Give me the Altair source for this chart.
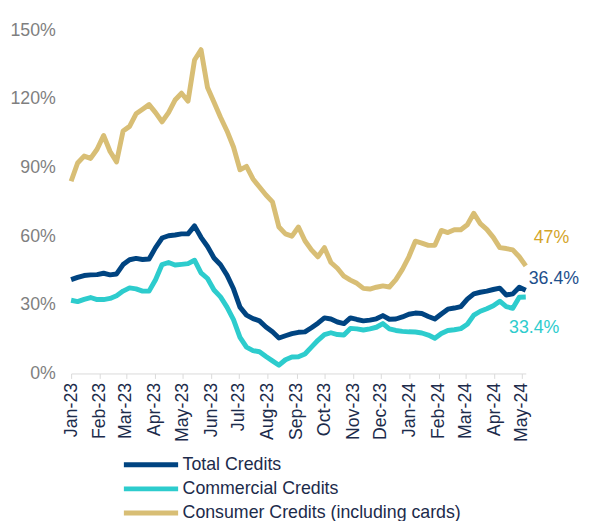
import altair as alt
import pandas as pd

start_date = "2023-01-01"
n_weeks = 71

total = [41, 42, 42.8, 43.1, 43.2, 43.8, 43.1, 43.5, 47.6, 49.7,
         50.3, 49.8, 50, 55, 59.2, 60.2, 60.5, 61, 61, 64.5,
         59.5, 55.5, 50.5, 47.5, 43, 37, 29, 25.5, 24, 23,
         20.3, 18.2, 15.5, 16.5, 17.4, 18, 18.2, 20, 22, 24.3,
         23.8, 22.5, 21.8, 24.3, 23.6, 23, 23.3, 23.9, 25.3, 23.7,
         23.8, 24.7, 25.9, 26.4, 26.2, 24.9, 23.8, 26, 28.1, 28.6,
         29.2, 32.5, 34.8, 35.5, 36, 36.7, 37.3, 34.3, 34.8, 37.7,
         36.4]
commercial = [32, 31.4, 32.4, 33.2, 32.3, 32.3, 32.8, 34, 36, 37.4,
              37, 36, 36, 41, 47.6, 48.5, 47.4, 47.7, 48, 49.5,
              44, 41.5, 36.5, 33.5, 29, 23.5, 15.8, 11.5, 10, 9.5,
              7.4, 5.5, 3.6, 6, 7.2, 7.3, 8.5, 11.5, 14.5, 17,
              17.8, 17, 16.8, 19.7, 19.5, 19, 19.5, 20.2, 21.8, 19.5,
              18.8, 18.4, 18.2, 18.1, 17.7, 16.8, 15.4, 17.5, 18.8, 19.1,
              19.6, 21.5, 25.5, 27.2, 28.3, 29.6, 31.6, 29.2, 28.5, 33.3,
              33.4]
consumer = [84, 92, 95, 94, 98, 104, 97, 92.5, 106, 108,
            113.5, 115.5, 117.5, 114, 110, 114, 119.5, 122.5, 119, 137,
            141.5, 125, 118.5, 112, 106, 99, 89, 90.5, 85, 81.5,
            78, 75, 64, 61, 60, 64, 58, 54, 51, 55,
            48.5, 46, 42.5, 40.8, 39.4, 37.2, 36.9, 37.7, 38.3, 37.8,
            41, 45.5, 51, 57.8, 57, 56, 56, 62.5, 61.6, 62.8,
            62.8, 65, 70, 65.5, 63, 59.5, 55, 54.6, 54, 51,
            47]

series_names = ["Total Credits", "Commercial Credits", "Consumer Credits (including cards)"]
series_colors = ["#004481", "#2dcccd", "#d8be75"]
end_labels = ["36.4%", "33.4%", "47%"]
label_colors = ["#1d4f8c", "#2dcccd", "#d4a52a"]
label_dx = [3, -17, 8]
label_dy = [-11, 31, -28]

dates = pd.date_range(start_date, periods=n_weeks, freq="7D").strftime("%Y-%m-%dT00:00:00")

rows = []
for name, vals in zip(series_names, [total, commercial, consumer]):
    for d, v in zip(dates, vals):
        rows.append({"date": d, "value": v, "series": name})
df = pd.DataFrame(rows)

lab_rows = []
for name, vals, txt in zip(series_names, [total, commercial, consumer], end_labels):
    lab_rows.append({"date": dates[-1], "value": vals[-1], "series": name, "text": txt})
lab_df = pd.DataFrame(lab_rows)

FONT = "Liberation Sans"

x_enc = alt.X("date:T",
              scale=alt.Scale(domain=[dates[0], dates[-1]]),
              axis=alt.Axis(format="%b-%y", tickCount={"interval": "month", "step": 1},
                            labelAngle=-90, labelFontSize=18, labelFont=FONT,
                            labelColor="#1c2b4b", labelPadding=4, title=None,
                            domainColor="#d9d9d9", tickColor="#d9d9d9", tickSize=5,
                            grid=False, labelOverlap=False, labelFlush=False))
y_enc = alt.Y("value:Q",
              scale=alt.Scale(domain=[0, 150], nice=False, zero=True),
              axis=alt.Axis(values=[0, 30, 60, 90, 120, 150], labelExpr="datum.value + '%'",
                            labelFontSize=18, labelFont=FONT, labelColor="#7f7f7f",
                            domain=False, ticks=False, grid=False, labelPadding=16,
                            title=None))

lines = alt.Chart(df).mark_line(strokeWidth=5, strokeJoin="round").encode(
    x=x_enc,
    y=y_enc,
    color=alt.Color("series:N",
                    scale=alt.Scale(domain=series_names, range=series_colors),
                    sort=series_names,
                    legend=alt.Legend(title=None, orient="none", legendX=67.5, legendY=427,
                                      direction="vertical", symbolType="M-2.5,0H2.5",
                                      symbolStrokeWidth=5, symbolSize=484,
                                      symbolFillColor="transparent",
                                      labelFontSize=18, labelFont=FONT,
                                      labelColor="#1c2b4b", labelLimit=0,
                                      rowPadding=0.5, labelOffset=18.5)),
    order=alt.Order("series:N"),
)

layers = [lines]
for name, col, dx, dy in zip(series_names, label_colors, label_dx, label_dy):
    layers.append(
        alt.Chart(lab_df).transform_filter(alt.datum.series == name)
        .mark_text(align="left", baseline="middle", fontSize=18, font=FONT,
                   color=col, dx=dx, dy=dy)
        .encode(x="date:T", y="value:Q", text="text:N")
    )

chart = alt.layer(*layers).properties(
    width=461, height=348,
    autosize=alt.AutoSizeParams(type="none"),
    padding={"left": 64, "top": 19, "right": 56, "bottom": 146},
).configure_view(stroke=None)

chart.save("out.html", embed_options={"renderer": "svg", "actions": False})
